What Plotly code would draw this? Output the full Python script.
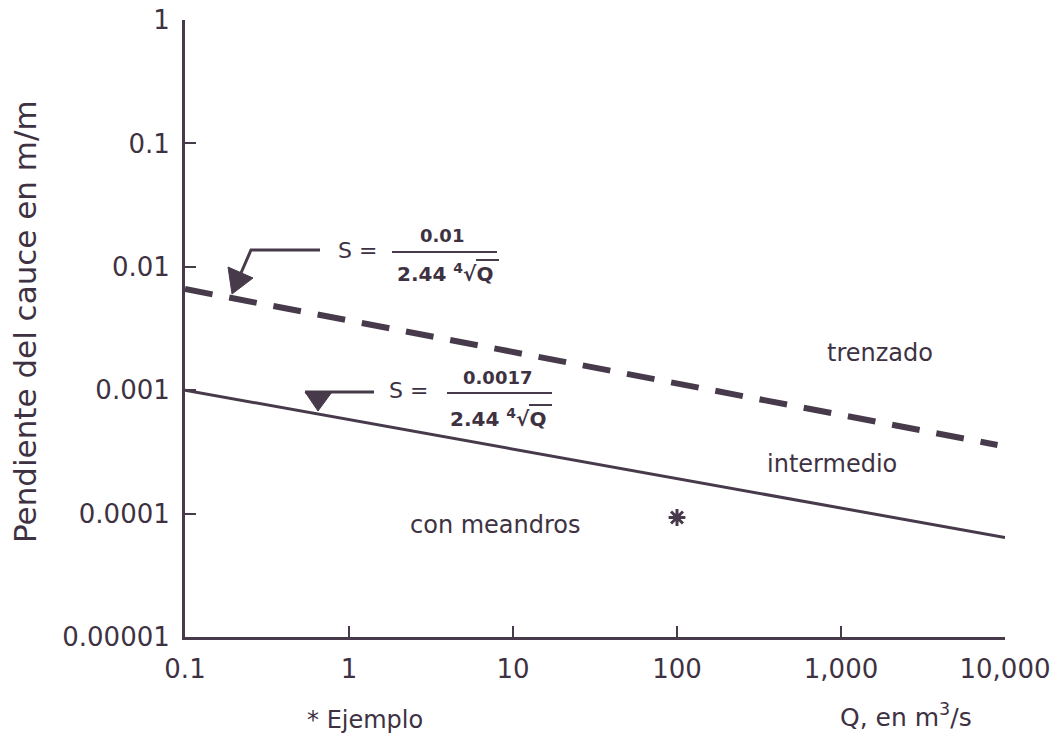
import plotly.graph_objects as go

# ---- data ----
x_tickvals = [0.1, 1, 10, 100, 1000, 10000]
x_ticktext = ["0.1", "1", "10", "100", "1,000", "10,000"]
y_tickvals = [0.00001, 0.0001, 0.001, 0.01, 0.1, 1]
y_ticktext = ["0.00001", "0.0001", "0.001", "0.01", "0.1", "1"]

meandering_q = [0.1, 10000]          # solid line: S = 0.0017 / (2.44 Q^0.25)
meandering_s = [0.00100, 0.000064]
braided_q = [0.1, 9000]              # dashed line: S = 0.01 / (2.44 Q^0.25)
braided_s = [0.0066, 0.00036]
example_q = [100]
example_s = [0.000093]

INK = "#473b4b"
TXT = "#3e3242"
FONT = "DejaVu Sans, Liberation Sans, sans-serif"

W, H = 1059, 742
L, R, T, B = 185, 1005, 20, 637


def px(x):
    return (x - L) / (R - L)


def py(y):
    return (B - y) / (B - T)


fig = go.Figure()
fig.add_trace(go.Scatter(x=meandering_q, y=meandering_s, mode="lines",
                         line=dict(color=INK, width=3), showlegend=False))
fig.add_trace(go.Scatter(x=braided_q, y=braided_s, mode="lines",
                         line=dict(color=INK, width=6, dash="28px,17px"),
                         showlegend=False))
fig.add_trace(go.Scatter(x=example_q, y=example_s, mode="markers",
                         marker=dict(symbol="asterisk-open", size=14, color=INK,
                                     line=dict(color=INK, width=3)),
                         showlegend=False))

axis_common = dict(type="log", showgrid=False, zeroline=False, showline=True,
                   linecolor=INK, linewidth=3, ticks="inside", ticklen=11,
                   tickwidth=2, tickcolor=INK, mirror=False, automargin=False,
                   tickfont=dict(family=FONT, size=26, color=TXT))

fig.update_xaxes(range=[-1, 4], tickvals=x_tickvals, ticktext=x_ticktext,
                 ticklabelstandoff=7, **axis_common)
fig.update_yaxes(range=[-5, 0], tickvals=y_tickvals, ticktext=y_ticktext,
                 ticklabelstandoff=7, **axis_common)

ann = []


def text(x, y, s, size=25, **kw):
    ann.append(dict(x=px(x), y=py(y), xref="paper", yref="paper", text=s,
                    showarrow=False, xanchor="center", yanchor="middle",
                    font=dict(family=FONT, size=size, color=TXT), **kw))


text(880, 353, "trenzado", 24)
text(832, 464, "intermedio", 24)
text(495, 525, "con meandros", 24)
text(365, 720, "* Ejemplo", 24)
text(906, 716, "Q, en m<sup>3</sup>/s", 25)
text(25, 322, "Pendiente del cauce en m/m", 31, textangle=-90)

# formula 1
text(357, 250, "S =", 22)
text(442, 236, "<b>0.01</b>", 18)
text(445, 273, "<b>2.44 <sup>4</sup>√Q</b>", 20)
# formula 2
text(408, 391, "S =", 22)
text(497, 377, "<b>0.0017</b>", 18)
text(498, 418, "<b>2.44 <sup>4</sup>√Q</b>", 20)

fig.update_layout(annotations=ann)

shapes = []


def seg(x0, y0, x1, y1, w=2):
    shapes.append(dict(type="line", xref="paper", yref="paper", x0=px(x0), x1=px(x1),
                       y0=py(y0), y1=py(y1), line=dict(color=INK, width=w)))


def poly(pts, fill=True, w=1):
    d = "M " + " L ".join(f"{px(a)} {py(b)}" for a, b in pts)
    if fill:
        d += " Z"
    shapes.append(dict(type="path", xref="paper", yref="paper", path=d,
                       fillcolor=INK if fill else None,
                       line=dict(color=INK, width=w)))


# fraction bars
seg(392, 252, 497, 252)
seg(447, 393, 552, 393)
# radical vinculum over Q
seg(476, 260, 499, 260)
seg(529, 405, 552, 405)
# arrow 1 : bent leader + filled head
poly([(320, 250), (251, 250), (241, 273)], fill=False, w=3)
poly([(232, 294), (228, 267), (253, 278)])
# arrow 2 : leader + down-pointing head
seg(305, 392, 374, 392, 3)
poly([(305, 392), (332, 392), (318, 411)])

fig.update_layout(shapes=shapes, width=W, height=H,
                  margin=dict(l=L, r=W - R, t=T, b=H - B, autoexpand=False),
                  paper_bgcolor="white", plot_bgcolor="white",
                  font=dict(family=FONT, color=TXT))

fig.write_html("out.html", config={"displayModeBar": False},
               post_script="document.body.style.margin='0';document.body.style.padding='0';")
